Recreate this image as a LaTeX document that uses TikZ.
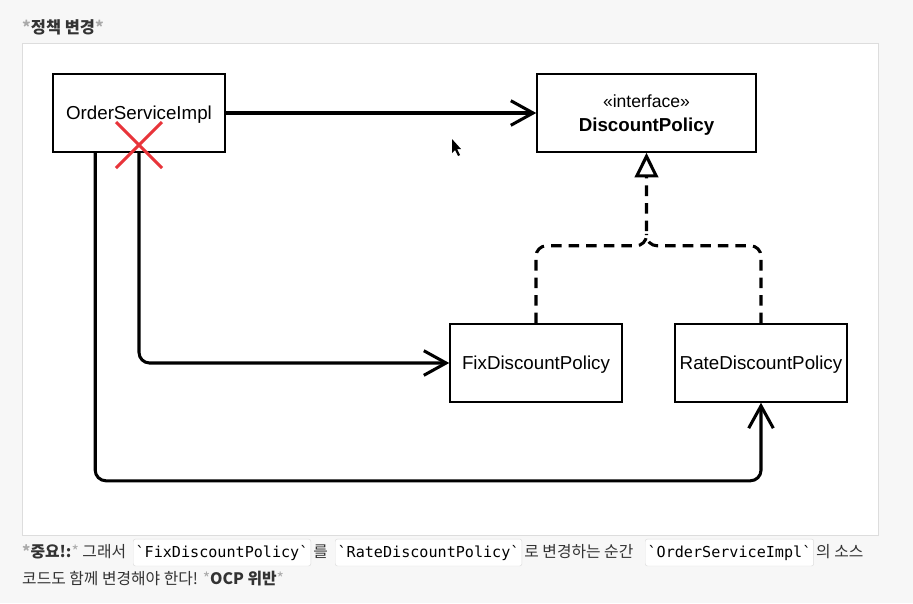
\documentclass[tikz,border=0pt]{standalone}
\usepackage{fontspec}
\setmainfont{Liberation Sans}
\newfontfamily\krfont{Noto Sans CJK KR}
\newfontfamily\codefont{DejaVu Sans Mono}
\usetikzlibrary{arrows.meta,positioning,calc}
\definecolor{pagebg}{HTML}{F7F7F7}
\definecolor{panelline}{HTML}{DDDDDD}
\definecolor{crossred}{HTML}{E8343A}
\definecolor{stargray}{HTML}{AAAAAA}
\definecolor{txtgray}{HTML}{333333}
\tikzset{>=Straight Barb}
\tikzset{
  umlbox/.style={draw=black, line width=1.3pt, fill=white, minimum width=172\unitpx, minimum height=78\unitpx, inner sep=0pt, text depth=0pt, font=\fontsize{16}{19}\selectfont},
  dep/.style={line width=2.6pt, rounded corners=9pt, -{Straight Barb[length=19pt,width=21pt,line width=2.6pt]}},
  impl/.style={line width=2.6pt, rounded corners=9pt, dash pattern=on 9pt off 6pt},
  codebox/.style={draw=panelline, fill=white, rounded corners=2pt, inner xsep=2pt, inner ysep=5pt, font=\codefont\fontsize{12.9}{15}\selectfont, anchor=base west},
  krtext/.style={font=\krfont\fontsize{13.5}{16}\selectfont, text=txtgray, inner sep=0pt, anchor=base west},
}
\newcommand\unitpx{mm*0.3}
\begin{document}
\begin{tikzpicture}[x=0.03cm, y=-0.03cm]
% page and panel
\fill[pagebg] (0,0) rectangle (913,603);
\useasboundingbox (0,0) rectangle (913,603);
\draw[panelline, fill=white, line width=0.8pt] (22,43) rectangle (878,535);

% title
\node[krtext, font=\krfont\bfseries\fontsize{14}{17}\selectfont] (title) at (22,33)
  {\textcolor{stargray}{*}정책 변경\textcolor{stargray}{*}};

% boxes
\node[umlbox] (osi) at (139,113) {OrderServiceImpl};
\node[umlbox, minimum width=219\unitpx, align=center] (dp) at (646.5,113)
  {\fontsize{15}{18}\selectfont«interface»\\[1pt]\textbf{DiscountPolicy}};
\node[umlbox] (fix) at (536,363) {FixDiscountPolicy};
\node[umlbox] (rate) at (761,363) {RateDiscountPolicy};

% connectors
\draw[dep] (osi.east) -- (dp.west);
\draw[dep] (osi.south) |- (fix.west);
\draw[dep] ($(osi.south west)+(43,0)$) -- ++(0,328) -| (rate.south);

\coordinate (jn) at ($(dp.south)+(0,93)$);
\draw[impl, -{Triangle[open, fill=white, length=21pt, width=20pt, line width=2.6pt]}]
  (fix.north) |- (jn) -- (dp.south);
\draw[impl] (rate.north) |- (jn) -- ++(0,-12);

% red cross
\coordinate (xc) at (139,145);
\draw[crossred, line width=2.6pt] ($(xc)+(-23,-23)$) -- ($(xc)+(23,23)$)
  ($(xc)+(23,-23)$) -- ($(xc)+(-23,23)$);

% mouse pointer
\fill[black] (452,139) -- (452,153) -- (455,150) -- (458,156) -- (460,155) -- (457,149) -- (461,149) -- cycle;

% note below
\node[krtext] (n1) at (22,557) {\textbf{\textcolor{stargray}{*}}\textbf{중요!:}\textcolor{stargray}{*} 그래서};
\node[codebox] (c1) at (133,557) {`FixDiscountPolicy`};
\node[krtext] (n2) at ($(c1.east |- n1.base)+(2,0)$) {를};
\node[codebox] (c2) at (335,557) {`RateDiscountPolicy`};
\node[krtext] (n3) at ($(c2.east |- n1.base)+(2,0)$) {로 변경하는 순간};
\node[codebox] (c3) at (645,557) {`OrderServiceImpl`};
\node[krtext] (n4) at ($(c3.east |- n1.base)+(2,0)$) {의 소스};
\node[krtext] (n5) at (22,584) {코드도 함께 변경해야 한다! \textcolor{stargray}{*}\textbf{OCP 위반}\textcolor{stargray}{*}};
\end{tikzpicture}
\end{document}
